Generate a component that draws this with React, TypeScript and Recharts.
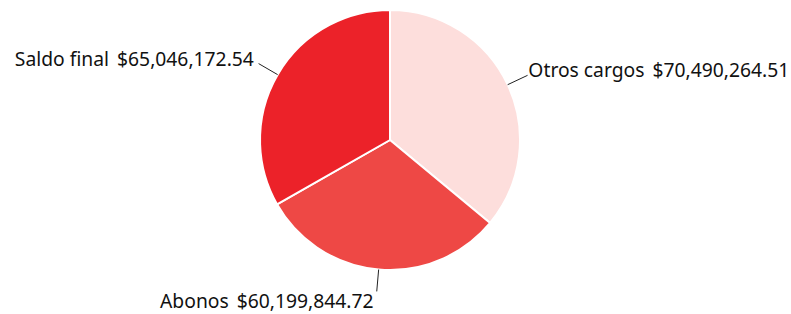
import React from 'react';
import { PieChart, Pie, Cell } from 'recharts';

const NAMES = ['Otros cargos', 'Abonos', 'Saldo final'];
const VALUES = [70490264.51, 60199844.72, 65046172.54];
const COLORS = ['#FDDEDC', '#EE4845', '#EC2229'];

const data = NAMES.map((name, i) => ({ name, value: VALUES[i] }));

const RADIAN = Math.PI / 180;

const fmt = (v: number) =>
  '$' + v.toLocaleString('en-US', { minimumFractionDigits: 2, maximumFractionDigits: 2 });

const renderLabel = (props: any) => {
  const { cx, cy, midAngle, outerRadius, name, value } = props;
  const cos = Math.cos(-midAngle * RADIAN);
  const sin = Math.sin(-midAngle * RADIAN);
  const r = outerRadius + 24;
  let x = cx + r * cos;
  let y = cy + r * sin;
  let anchor = cos >= 0 ? 'start' : 'end';
  if (Math.abs(cos) < 0.2) {
    // bottom label sits under the line end
    anchor = 'end';
    y = y + 7;
    x = x - 3;
  } else {
    x = x + (cos >= 0 ? -1 : -3);
    y = y - 5;
  }
  return (
    <text x={x} y={y} textAnchor={anchor} dominantBaseline="central" fill="#111" fontSize={19.3} fontFamily="'Noto Sans', sans-serif">
      <tspan>{name}</tspan>
      <tspan dx={8}>{fmt(value)}</tspan>
    </text>
  );
};

const renderLine = (props: any) => {
  const { cx, cy, midAngle, outerRadius } = props;
  const cos = Math.cos(-midAngle * RADIAN);
  const sin = Math.sin(-midAngle * RADIAN);
  const x1 = cx + outerRadius * cos;
  const y1 = cy + outerRadius * sin;
  const x2 = cx + (outerRadius + 22) * cos;
  const y2 = cy + (outerRadius + 22) * sin;
  return <path d={`M${x1},${y1}L${x2},${y2}`} stroke="#222" strokeWidth={1} fill="none" />;
};

export default function App() {
  return (
    <div style={{ position: 'absolute', left: 0, top: 0, width: 791, height: 314, background: '#fff' }}>
      <PieChart width={791} height={314} margin={{ top: 0, right: 0, bottom: 0, left: 0 }} style={{ overflow: 'visible' }}>
        <Pie
          data={data}
          dataKey="value"
          nameKey="name"
          cx={390}
          cy={140}
          outerRadius={130}
          startAngle={90}
          endAngle={-270}
          stroke="#fff"
          strokeWidth={2}
          label={renderLabel}
          labelLine={renderLine}
          isAnimationActive={false}
        >
          {data.map((d, i) => (
            <Cell key={d.name} fill={COLORS[i]} />
          ))}
        </Pie>
      </PieChart>
    </div>
  );
}
